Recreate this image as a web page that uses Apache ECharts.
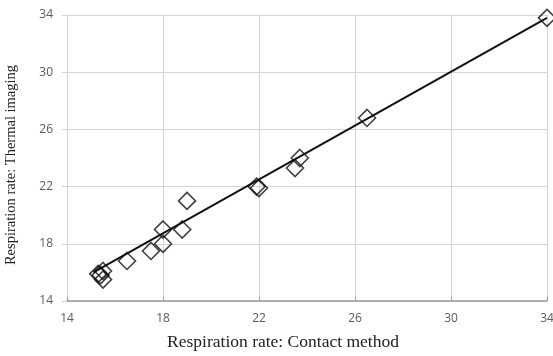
<!DOCTYPE html>
<html><head><meta charset="utf-8">
<script src="https://cdn.jsdelivr.net/npm/echarts@6/dist/echarts.min.js"></script>
<style>html,body{margin:0;padding:0;background:#fff}#c{width:553px;height:356px}</style>
</head><body><div id="c"></div>
<script>
var contactMethod = [15.3, 15.5, 15.5, 15.4, 16.5, 17.5, 18.0, 18.0, 18.8, 19.0, 21.9, 22.0, 23.5, 23.7, 26.5, 34.0];
var thermalImaging = [15.9, 16.1, 15.5, 15.8, 16.8, 17.5, 18.0, 19.0, 19.0, 21.0, 22.0, 21.9, 23.3, 24.0, 26.8, 33.8];
var trendX = [15.1, 34.0];
var trendY = [16.0, 33.8];
var xTitle = 'Respiration rate: Contact method';
var yTitle = 'Respiration rate: Thermal imaging';

var pts = contactMethod.map(function(x, i){ return [x, thermalImaging[i]]; });
var trend = trendX.map(function(x, i){ return [x, trendY[i]]; });
var chart = echarts.init(document.getElementById('c'));
var labelStyle = {color:'#5a5a5a', fontFamily:'Open Sans', fontSize:12};
chart.setOption({
  animation:false,
  grid:{left:67, right:6, top:15, bottom:55, outerBoundsMode:'none', containLabel:false},
  xAxis:{type:'value', min:14, max:34, interval:4,
    name:xTitle, nameLocation:'middle', nameGap:32,
    nameTextStyle:{fontFamily:'Liberation Serif', fontSize:17.5, color:'#222', padding:[0,48,0,0]},
    axisLine:{show:true, lineStyle:{color:'#999', width:1.5}},
    axisTick:{show:true, inside:true, length:4, lineStyle:{color:'#999'}},
    axisLabel:Object.assign({margin:12}, labelStyle),
    splitLine:{show:true, lineStyle:{color:'#d4d4d4', width:1.2}}},
  yAxis:{type:'value', min:14, max:34, interval:4,
    name:yTitle, nameLocation:'middle', nameGap:48,
    nameTextStyle:{fontFamily:'Liberation Serif', fontSize:14.5, color:'#222', padding:[0,14,0,0]},
    axisLine:{show:false},
    axisTick:{show:true, length:5, lineStyle:{color:'#d4d4d4'}},
    axisLabel:Object.assign({margin:14}, labelStyle),
    splitLine:{show:true, lineStyle:{color:'#d4d4d4', width:1.2}}},
  series:[
    {type:'line', data:trend, symbol:'none', lineStyle:{color:'#111', width:2}, z:3},
    {type:'scatter', data:pts, symbol:'diamond', symbolSize:17,
      itemStyle:{color:'rgba(255,255,255,0)', borderColor:'#111', borderWidth:1.6}, z:4}
  ]
});
</script></body></html>
